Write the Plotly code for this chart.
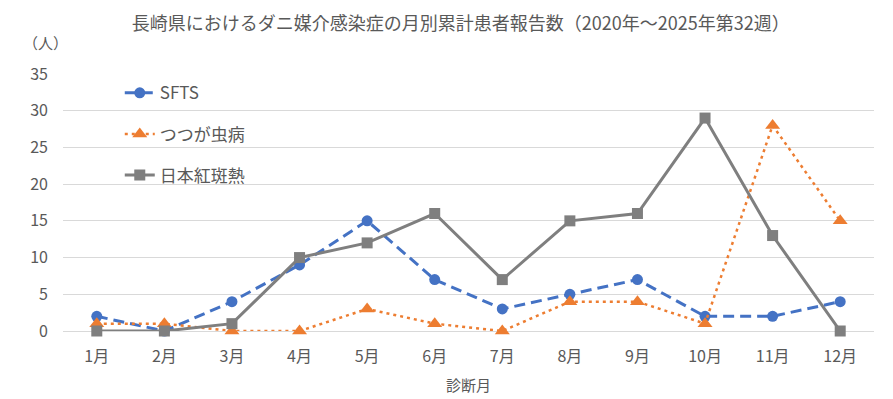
import plotly.graph_objects as go

months = ["1月", "2月", "3月", "4月", "5月", "6月", "7月", "8月", "9月", "10月", "11月", "12月"]
sfts = [2, 0, 4, 9, 15, 7, 3, 5, 7, 2, 2, 4]
tsutsugamushi = [1, 1, 0, 0, 3, 1, 0, 4, 4, 1, 28, 15]
jsf = [0, 0, 1, 10, 12, 16, 7, 15, 16, 29, 13, 0]
y_ticks = [0, 5, 10, 15, 20, 25, 30, 35]

FONT = "Noto Sans CJK JP"
TXT = "#595959"
fig = go.Figure()
fig.add_trace(go.Scatter(
    x=months, y=sfts, name="SFTS", mode="lines+markers", legendgroup="a",
    line=dict(color="#4472C4", width=3, dash="11px,6px"),
    marker=dict(symbol="circle", size=11, color="#4472C4"), cliponaxis=False))
fig.add_trace(go.Scatter(
    x=months, y=tsutsugamushi, name="つつが虫病", mode="lines+markers", legendgroup="b",
    line=dict(color="#ED7D31", width=2.5, dash="3px,4px"),
    marker=dict(symbol="triangle-up", size=13, color="#ED7D31"), cliponaxis=False))
fig.add_trace(go.Scatter(
    x=months, y=jsf, name="日本紅斑熱", mode="lines+markers", legendgroup="c",
    line=dict(color="#7F7F7F", width=3),
    marker=dict(symbol="square", size=11, color="#7F7F7F"), cliponaxis=False))

fig.update_layout(
    width=893, height=399,
    margin=dict(l=63, r=19, t=74, b=68, autoexpand=False),
    plot_bgcolor="white", paper_bgcolor="white",
    font=dict(family=FONT, color=TXT, size=15),
    title=dict(text="長崎県におけるダニ媒介感染症の月別累計患者報告数（2020年～2025年第32週）",
               x=0.516, xanchor="center", y=0.94, yanchor="middle",
               font=dict(size=18, color=TXT, family=FONT)),
    legend=dict(x=0.07, y=0.995, xanchor="left", yanchor="top",
                bgcolor="rgba(0,0,0,0)", font=dict(size=17, color=TXT),
                tracegroupgap=16, traceorder="grouped"),
    xaxis=dict(showgrid=False, showline=False, ticks="", range=[-0.5, 11.5],
               automargin=False, ticklabelstandoff=14,
               title=dict(text="診断月", font=dict(size=15, color=TXT), standoff=14),
               tickfont=dict(size=16, color=TXT)),
    yaxis=dict(range=[0, 35], tickvals=y_ticks, showgrid=True, gridcolor="#D9D9D9",
               gridwidth=1, zeroline=True, zerolinecolor="#D9D9D9", zerolinewidth=1,
               showline=False, ticks="", ticklabelstandoff=14, automargin=False,
               tickfont=dict(size=16, color=TXT)),
    annotations=[dict(text="（人）", xref="paper", yref="paper",
                      x=(45 - 63) / 811, y=1 + (74 - 42) / 257,
                      xanchor="center", yanchor="middle", showarrow=False,
                      font=dict(size=15, color=TXT))],
)
fig.write_html("out.html", config={"displayModeBar": False},
               post_script="document.body.style.margin='0';")
